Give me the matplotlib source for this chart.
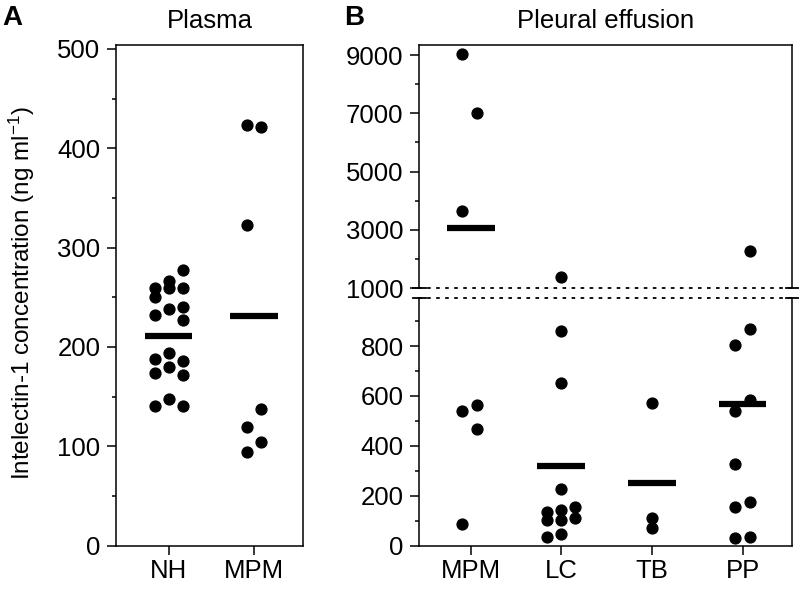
import matplotlib
matplotlib.use("Agg")
import matplotlib.pyplot as plt
import numpy as np

plt.rcParams["font.family"] = "Liberation Sans"
plt.rcParams["mathtext.fontset"] = "custom"
plt.rcParams["mathtext.rm"] = "Liberation Sans"
plt.rcParams["mathtext.default"] = "regular"

# Panel A: plasma (ng/ml)
plasma_groups = ["NH", "MPM"]
nh_plasma = [277, 266, 259, 259, 259, 250, 238, 240, 232, 227, 194, 188, 186, 180, 174, 172, 148, 140, 140]
nh_slot = [1, 0, -1, 0, 1, -1, 0, 1, -1, 1, 0, -1, 1, 0, -1, 1, 0, -1, 1]
mpm_plasma = [423, 421, 323, 137, 119, 104, 94]
mpm_plasma_slot = [-0.5, 0.5, -0.5, 0.5, -0.5, 0.5, -0.5]
plasma_means = [211, 231]

# Panel B: pleural effusion (ng/ml)
effusion_groups = ["MPM", "LC", "TB", "PP"]
mpm_eff = [9030, 7010, 3650, 564, 540, 468, 86]
mpm_eff_slot = [-0.6, 0.4, -0.6, 0.4, -0.6, 0.4, -0.6]
lc_eff = [1400, 859, 650, 228, 156, 143, 136, 110, 103, 103, 45, 36]
lc_slot = [0, 0, 0, 0, 1, 0, -1, 1, 0, -1, 0, -1]
tb_eff = [570, 110, 70]
tb_slot = [0, 0, 0]
pp_eff = [2290, 867, 803, 584, 540, 325, 174, 156, 36, 29]
pp_slot = [0.5, 0.5, -0.5, 0.5, -0.5, -0.5, 0.5, -0.5, 0.5, -0.5]
effusion_means = [3060, 320, 250, 569]

W, H = 799, 589
FS = 18.5
fig = plt.figure(figsize=(W / 100, H / 100), dpi=100)


def px_axes(left, right, top, bottom):
    return fig.add_axes([left / W, 1 - bottom / H, (right - left) / W, (bottom - top) / H])


def style(ax):
    for s in ax.spines.values():
        s.set_linewidth(1.1)
    ax.tick_params(which="major", direction="out", length=6.3, width=1.1, labelsize=FS, pad=5)
    ax.tick_params(which="minor", direction="out", length=3, width=1.1)
    ax.tick_params(axis="x", pad=3.5)


def strip(ax, x, vals, slots, step, mean, half, lo=-np.inf, hi=np.inf):
    vals = np.asarray(vals, dtype=float)
    xs = x + np.asarray(slots) * step
    keep = (vals >= lo) & (vals <= hi)
    ax.plot(xs[keep], vals[keep], "o", color="black", ms=7.8, mec="black")
    if lo <= mean <= hi:
        ax.hlines(mean, x - half, x + half, color="black", lw=4.5)


# ---- Panel A ----
ax_a = px_axes(116, 303, 45, 545.5)
style(ax_a)
strip(ax_a, 0, nh_plasma, nh_slot, 0.167, plasma_means[0], 0.275)
strip(ax_a, 1, mpm_plasma, mpm_plasma_slot, 0.167, plasma_means[1], 0.28)
ax_a.set_xlim(-0.62, 1.58)
ax_a.set_ylim(0, 504)
ax_a.set_yticks(np.arange(0, 501, 100))
ax_a.set_yticks(np.arange(50, 500, 100), minor=True)
ax_a.set_xticks([0, 1])
ax_a.set_xticklabels(plasma_groups)
ax_a.set_title("Plasma", fontsize=FS, pad=12)

# ---- Panel B (broken axis) ----
ax_hi = px_axes(419.3, 792.3, 45, 288.3)
ax_lo = px_axes(419.3, 792.3, 297.7, 545.5)
HI_LIM = (1000, 9343)
LO_LIM = (0, 994)
eff_vals = [mpm_eff, lc_eff, tb_eff, pp_eff]
eff_slots = [mpm_eff_slot, lc_slot, tb_slot, pp_slot]
for ax, (lo, hi) in ((ax_hi, HI_LIM), (ax_lo, LO_LIM)):
    style(ax)
    for i, (v, s) in enumerate(zip(eff_vals, eff_slots)):
        strip(ax, i, v, s, 0.155, effusion_means[i], 0.265, lo, hi)
    ax.set_xlim(-0.57, 3.55)
    ax.set_ylim(lo, hi)

ax_hi.set_yticks(np.arange(1000, 9001, 2000))
ax_hi.set_yticks(np.arange(2000, 9000, 2000), minor=True)
ax_hi.set_xticks([])
ax_hi.spines["bottom"].set_linestyle((0, (1, 4)))
ax_hi.spines["bottom"].set_linewidth(1.3)
ax_hi.set_title("Pleural effusion", fontsize=FS, pad=12)

ax_lo.set_yticks(np.arange(0, 801, 200))
ax_lo.set_yticks(np.arange(100, 901, 200), minor=True)
ax_lo.set_xticks(range(len(effusion_groups)))
ax_lo.set_xticklabels(effusion_groups)
ax_lo.spines["top"].set_linestyle((0, (1, 4)))
ax_lo.spines["top"].set_linewidth(1.3)

# break marks on both spines
d = 0.017
for ax, y in ((ax_hi, 0), (ax_lo, 1)):
    for x0 in (0, 1):
        ax.plot([x0 - d, x0 + d], [y, y], transform=ax.transAxes, color="black",
                lw=1.3, clip_on=False)

fig.text(22 / W, 1 - 293 / H, "Intelectin-1 concentration (ng ml$^{-1}$)", rotation=90,
         ha="center", va="center", fontsize=17.5)
fig.text(2 / W, 1 - 18 / H, "A", fontsize=20, fontweight="bold", va="center")
fig.text(344 / W, 1 - 18 / H, "B", fontsize=20, fontweight="bold", va="center")

fig.savefig("out.png", dpi=100)
